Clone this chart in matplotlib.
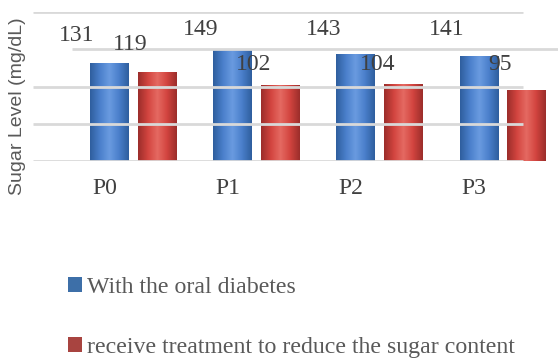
import numpy as np
import matplotlib
matplotlib.use("Agg")
import matplotlib.pyplot as plt
from matplotlib.colors import LinearSegmentedColormap
from matplotlib.patches import Patch

# data
categories = ["P0", "P1", "P2", "P3"]
oral = [131, 149, 143, 141]
treated = [119, 102, 104, 95]
series_names = ["With the oral diabetes", "receive treatment to reduce the sugar content"]

blue = "#4a7fcb"
red = "#d2443f"
grid_c = "#d9d9d9"
txt_c = "#404040"
leg_c = "#595959"

XL = (-0.81, 3.45)

fig = plt.figure(figsize=(5.58, 3.58), dpi=100)
ax = fig.add_axes([33 / 558, 1 - 161 / 358, 525 / 558, 149 / 358])
ax.axis("off")

x = np.arange(len(categories))
w = 0.31
off = 0.193

def shaded(bars, base, dark, light):
    cmap = LinearSegmentedColormap.from_list("g", [dark, base, light, base, dark])
    grad = np.linspace(0, 1, 64).reshape(1, -1)
    for b in bars:
        x0, y0 = b.get_x(), b.get_y()
        im = ax.imshow(grad, cmap=cmap, aspect="auto", zorder=2,
                       extent=[x0, x0 + b.get_width(), y0, y0 + b.get_height()])
        im.set_clip_path(b)

b1 = ax.bar(x - off, oral, w, color=blue, zorder=1, linewidth=0)
b2 = ax.bar(x + off, treated, w, color=red, zorder=1, linewidth=0)
shaded(b1, blue, "#2f5f9e", "#6a9be0")
shaded(b2, red, "#9c2e2b", "#e56a62")
ax.set_xlim(*XL)
ax.set_ylim(0, 200)

# gridlines (drawn over the bars like the reference)
for g in [0, 50, 100, 200]:
    ax.hlines(g, XL[0], 3.17, color=grid_c, lw=2, zorder=3)
ax.hlines(150, -0.495, XL[1], color=grid_c, lw=2, zorder=3)

# value labels
blue_dy = [38, 27, 33, 35]
red_dy = [37, 27, 25, 34]
for i in range(len(categories)):
    ax.text(x[i] - off - 0.26, oral[i] + blue_dy[i], str(oral[i]), ha="center", va="center",
            fontsize=17, family="Liberation Serif", color=txt_c, zorder=4)
    ax.text(x[i] + off - 0.21, treated[i] + red_dy[i], str(treated[i]), ha="center", va="center",
            fontsize=17, family="Liberation Serif", color=txt_c, zorder=4)
    ax.text(x[i] - 0.23, -37, categories[i], ha="center", va="center",
            fontsize=17, family="Liberation Serif", color=txt_c, clip_on=False)

# y label
fig.text(18 / 558, 1 - 106 / 358, "Sugar Level (mg/dL)", rotation=90, ha="center", va="center",
         fontsize=14, family="Liberation Sans", color=leg_c)

handles = [Patch(facecolor="#3d6fa8", edgecolor="none"), Patch(facecolor="#a84440", edgecolor="none")]
leg = fig.legend(handles, series_names, loc="upper left", bbox_to_anchor=(68 / 558, 1 - 277 / 358),
                 frameon=False, prop={"family": "Liberation Serif", "size": 17.2},
                 handlelength=0.6, handleheight=0.6, handletextpad=0.2, labelspacing=1.62,
                 borderaxespad=0, borderpad=0)
for t in leg.get_texts():
    t.set_color(leg_c)

fig.savefig("out.png", dpi=100)
